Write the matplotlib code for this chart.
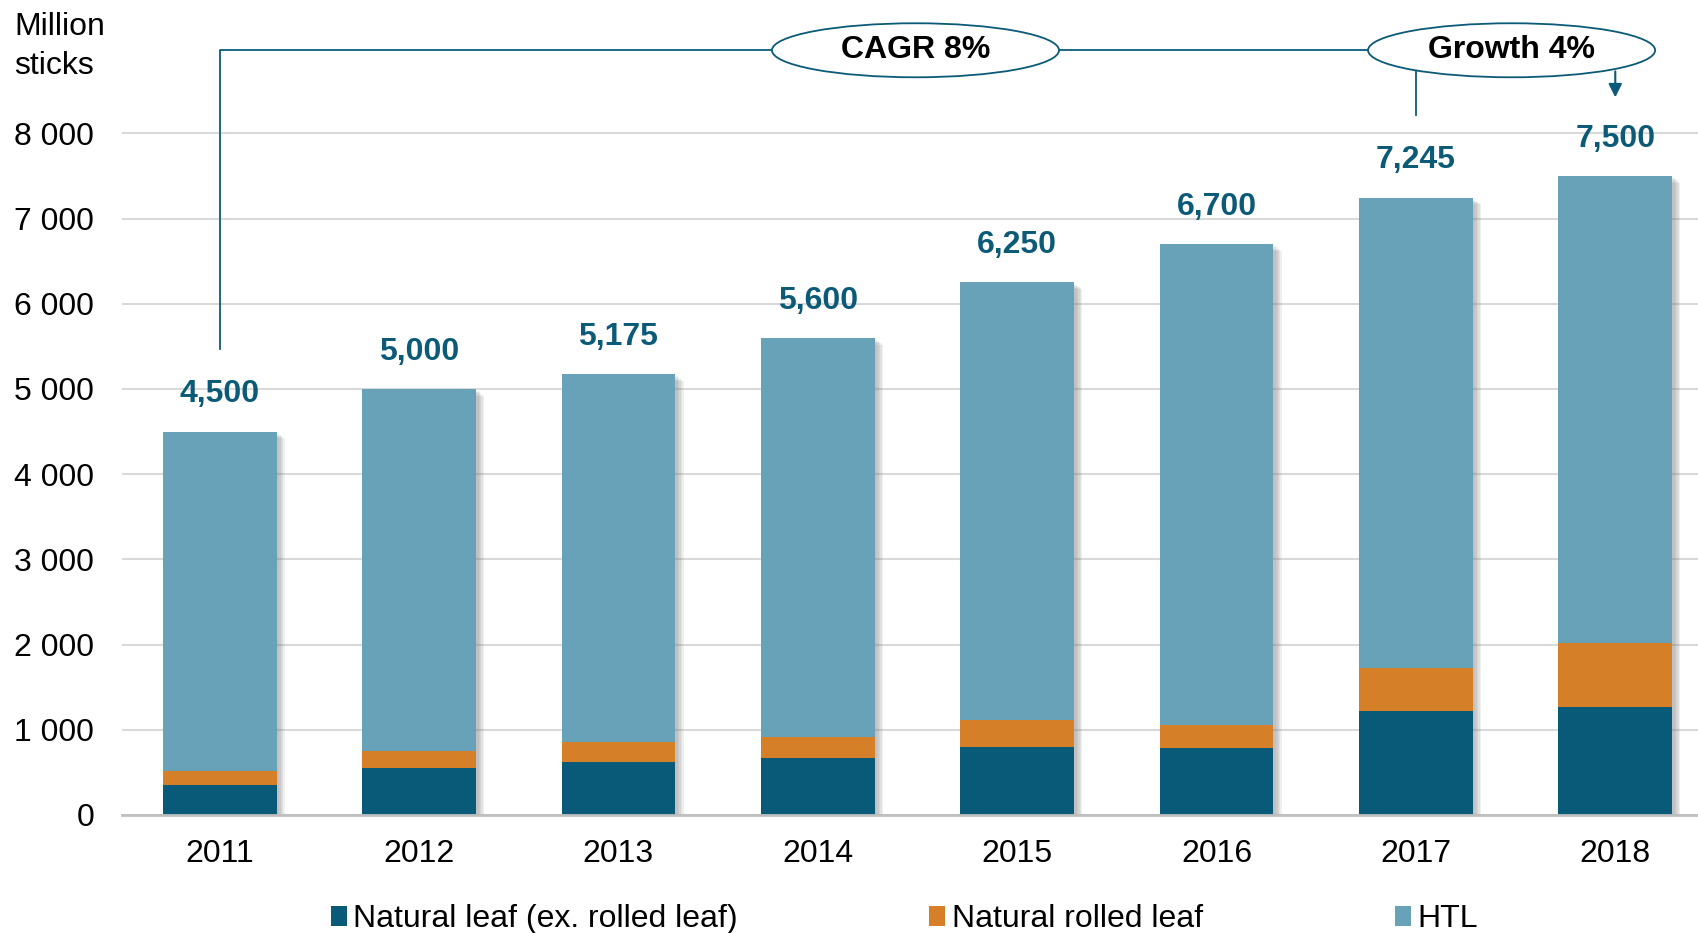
import matplotlib.pyplot as plt
import matplotlib.patheffects as pe
from matplotlib.patches import Ellipse

plt.rcParams["font.family"] = ["Liberation Sans", "DejaVu Sans"]

years = ["2011", "2012", "2013", "2014", "2015", "2016", "2017", "2018"]
totals = [4500, 5000, 5175, 5600, 6250, 6700, 7245, 7500]
natural_leaf = [350, 550, 620, 670, 800, 790, 1225, 1270]
rolled_leaf = [170, 200, 240, 250, 320, 270, 505, 745]
htl = [t - a - b for t, a, b in zip(totals, natural_leaf, rolled_leaf)]
yticks = [0, 1000, 2000, 3000, 4000, 5000, 6000, 7000, 8000]

DARK = "#085a78"
ORANGE = "#d58028"
LIGHT = "#68a2b8"
LABEL = "#0b5a78"
FS = 23

fig = plt.figure(figsize=(16.99, 9.33), dpi=100)
ax = fig.add_axes([122 / 1699, 118 / 933, 1 - 122 / 1699, 1 - 118 / 933])

x = list(range(len(years)))
w = 0.57

# soft shadow behind each full stack
shadow = ax.bar(x, totals, w, color=LIGHT, zorder=1)
effects = [pe.SimplePatchShadow(offset=(d, -d * 0.8), shadow_rgbFace="#808080", alpha=0.12)
           for d in (6, 5, 4, 3, 2)]
for p in shadow:
    p.set_path_effects(effects + [pe.Normal()])

ax.bar(x, natural_leaf, w, color=DARK, zorder=2, label="Natural leaf (ex. rolled leaf)")
ax.bar(x, rolled_leaf, w, bottom=natural_leaf, color=ORANGE, zorder=2, label="Natural rolled leaf")
bottoms = [a + b for a, b in zip(natural_leaf, rolled_leaf)]
ax.bar(x, htl, w, bottom=bottoms, color=LIGHT, zorder=2, label="HTL")

for xi, t in zip(x, totals):
    ax.annotate(f"{t:,}", (xi, t), xytext=(0, 16), textcoords="offset points",
                ha="center", va="bottom", fontsize=FS, fontweight="bold", color=LABEL)

ax.set_xlim(-0.49, 7.42)
ax.set_ylim(0, 9565)
ax.set_yticks(yticks)
ax.set_yticklabels([f"{v:,}".replace(",", " ") for v in yticks])
ax.set_xticks(x)
ax.set_xticklabels(years)
ax.tick_params(axis="both", length=0, labelsize=FS)
ax.tick_params(axis="x", pad=17)
ax.tick_params(axis="y", pad=20)
ax.yaxis.grid(True, color="#d9d9d9", linewidth=1.5, zorder=0)
ax.set_axisbelow(True)
for s in ["top", "right", "left"]:
    ax.spines[s].set_visible(False)
ax.spines["bottom"].set_color("#bfbfbf")
ax.spines["bottom"].set_linewidth(2)
ax.spines["bottom"].set_zorder(3)

# CAGR / growth callouts
ey = 8975
ew, eh = 1.44, 634
c1, c2 = 3.49, 6.48
ax.plot([0, 0, c1 - ew / 2], [5470, ey, ey], color=LABEL, lw=1.3, clip_on=False)
ax.plot([c1 + ew / 2, c2 - ew / 2], [ey, ey], color=LABEL, lw=1.3, clip_on=False)
for cx, txt in [(c1, "CAGR 8%"), (c2, "Growth 4%")]:
    ax.add_patch(Ellipse((cx, ey), ew, eh, facecolor="white", edgecolor=LABEL, lw=1.3,
                         clip_on=False, zorder=5))
    ax.text(cx, ey, txt, ha="center", va="center", fontsize=FS, fontweight="bold",
            color="black", zorder=6)
ax.plot([6, 6], [8740, 8220], color=LABEL, lw=1.3, clip_on=False)
ax.annotate("", xy=(7, 8390), xytext=(7, 8760),
            arrowprops=dict(arrowstyle="-|>", color=LABEL, lw=1.5, mutation_scale=20),
            annotation_clip=False)

fig.text(14 / 1699, 1 - 12 / 933, "Million\nsticks", ha="left", va="top", fontsize=FS,
         linespacing=1.38)

ax.legend(loc="center", bbox_to_anchor=(0.496, -(919 - 815) / 815), ncol=3, frameon=False,
          fontsize=FS, handlelength=0.5, handleheight=0.6, handletextpad=0.2,
          columnspacing=6.0, bbox_transform=ax.transAxes)

fig.savefig("out.png", dpi=100)
